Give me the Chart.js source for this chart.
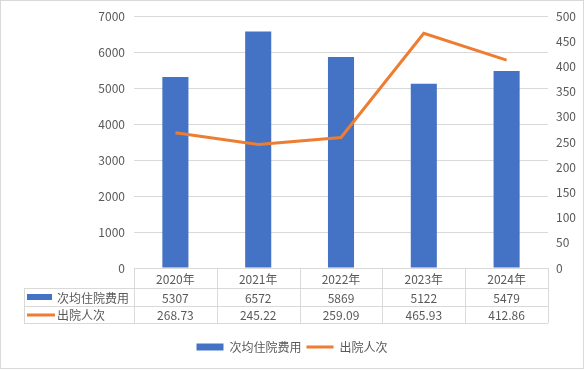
<!DOCTYPE html>
<html>
<head>
<meta charset="utf-8">
<script src="https://cdn.jsdelivr.net/npm/chart.js@4.4.1/dist/chart.umd.min.js"></script>
<style>
  html, body { margin: 0; padding: 0; background: #fff; }
  #wrap { width: 584px; height: 370px; }
</style>
</head>
<body>
<div id="wrap"><canvas id="chart"></canvas></div>
<script>
// data
var years = ['2020年', '2021年', '2022年', '2023年', '2024年'];
var costValues = [5307, 6572, 5869, 5122, 5479];
var dischargeValues = [268.73, 245.22, 259.09, 465.93, 412.86];
var costLabel = '次均住院费用';
var dischargeLabel = '出院人次';

var blue = '#4472C4';
var orange = '#ED7D31';
var grid = '#d9d9d9';
var textColor = '#595959';
var fontFamily = '"Noto Sans CJK SC", "Noto Sans", sans-serif';

function crisp(v) { return Math.round(v) + 0.5; }
function plain(value) { return String(value); }

// draws the data table under the plot and the outer frame
var tablePlugin = {
    id: 'dataTable',
    afterDraw: function (chart) {
        var ctx = chart.ctx;
        var area = chart.chartArea;
        var xs = chart.scales.x;
        var top = area.bottom, r1 = top + 20, r2 = r1 + 18, r3 = r2 + 17;
        var left = 24, right = area.right;
        var colW = (area.right - area.left) / years.length;

        ctx.save();
        ctx.strokeStyle = grid;
        ctx.lineWidth = 1;
        ctx.beginPath();
        ctx.moveTo(area.left, crisp(top)); ctx.lineTo(right, crisp(top));
        [r1, r2, r3].forEach(function (y) {
            ctx.moveTo(left, crisp(y)); ctx.lineTo(right, crisp(y));
        });
        ctx.moveTo(crisp(left), r1); ctx.lineTo(crisp(left), r3);
        for (var i = 0; i <= years.length; i++) {
            var x = crisp(area.left + colW * i);
            ctx.moveTo(x, top); ctx.lineTo(x, r3);
        }
        ctx.stroke();

        // outer frame
        ctx.strokeRect(0.5, 0.5, chart.width - 1, chart.height - 2);

        ctx.fillStyle = textColor;
        ctx.font = '12px ' + fontFamily;
        ctx.textAlign = 'center';
        ctx.textBaseline = 'middle';
        years.forEach(function (y, i) {
            var cx = xs.getPixelForValue(i);
            ctx.fillText(y, cx, (top + r1) / 2 + 1);
            ctx.fillText(String(costValues[i]), cx, (r1 + r2) / 2 + 1);
            ctx.fillText(dischargeValues[i].toFixed(2), cx, (r2 + r3) / 2 + 1);
        });

        // series keys
        ctx.fillStyle = blue;
        ctx.fillRect(27, Math.round((r1 + r2) / 2) - 3, 25, 6);
        ctx.strokeStyle = orange;
        ctx.lineWidth = 3;
        ctx.beginPath();
        ctx.moveTo(27, Math.round((r2 + r3) / 2));
        ctx.lineTo(55, Math.round((r2 + r3) / 2));
        ctx.stroke();

        ctx.fillStyle = textColor;
        ctx.textAlign = 'left';
        ctx.fillText(costLabel, 57, (r1 + r2) / 2 + 1);
        ctx.fillText(dischargeLabel, 57, (r2 + r3) / 2 + 1);
        ctx.restore();
    }
};

var ctx = document.getElementById('chart').getContext('2d');
var chart = new Chart(ctx, {
    data: {
        labels: years,
        datasets: [
            {
                type: 'line',
                label: dischargeLabel,
                data: dischargeValues,
                yAxisID: 'y1',
                borderColor: orange,
                backgroundColor: orange,
                borderWidth: 3,
                pointRadius: 0,
                pointStyle: 'line',
                tension: 0,
                order: 0
            },
            {
                type: 'bar',
                label: costLabel,
                data: costValues,
                yAxisID: 'y',
                backgroundColor: blue,
                borderWidth: 0,
                pointStyle: 'rect',
                categoryPercentage: 1,
                barPercentage: 0.315,
                order: 1
            }
        ]
    },
    options: {
        responsive: true,
        maintainAspectRatio: false,
        animation: false,
        layout: { padding: { top: 13, left: 0, right: 0, bottom: 7 } },
        scales: {
            x: {
                grid: { display: false },
                border: { display: false },
                ticks: { display: false },
                afterFit: function (scale) { scale.height = 68; }
            },
            y: {
                position: 'left',
                min: 0,
                max: 7000,
                ticks: {
                    stepSize: 1000,
                    padding: 9,
                    color: textColor,
                    callback: plain,
                    font: { family: fontFamily, size: 12 }
                },
                grid: { color: grid, drawTicks: false },
                border: { display: false },
                afterFit: function (scale) { scale.width = 134; }
            },
            y1: {
                position: 'right',
                min: 0,
                max: 500,
                ticks: {
                    stepSize: 50,
                    padding: 8,
                    color: textColor,
                    callback: plain,
                    font: { family: fontFamily, size: 12 }
                },
                grid: { display: false, drawTicks: false },
                border: { display: false },
                afterFit: function (scale) { scale.width = 36; }
            }
        },
        plugins: {
            legend: {
                position: 'bottom',
                reverse: true,
                labels: {
                    usePointStyle: true,
                    pointStyleWidth: 27,
                    boxHeight: 7,
                    padding: 5,
                    color: textColor,
                    font: { family: fontFamily, size: 12 }
                }
            },
            tooltip: { enabled: false }
        }
    },
    plugins: [tablePlugin]
});
</script>
</body>
</html>
